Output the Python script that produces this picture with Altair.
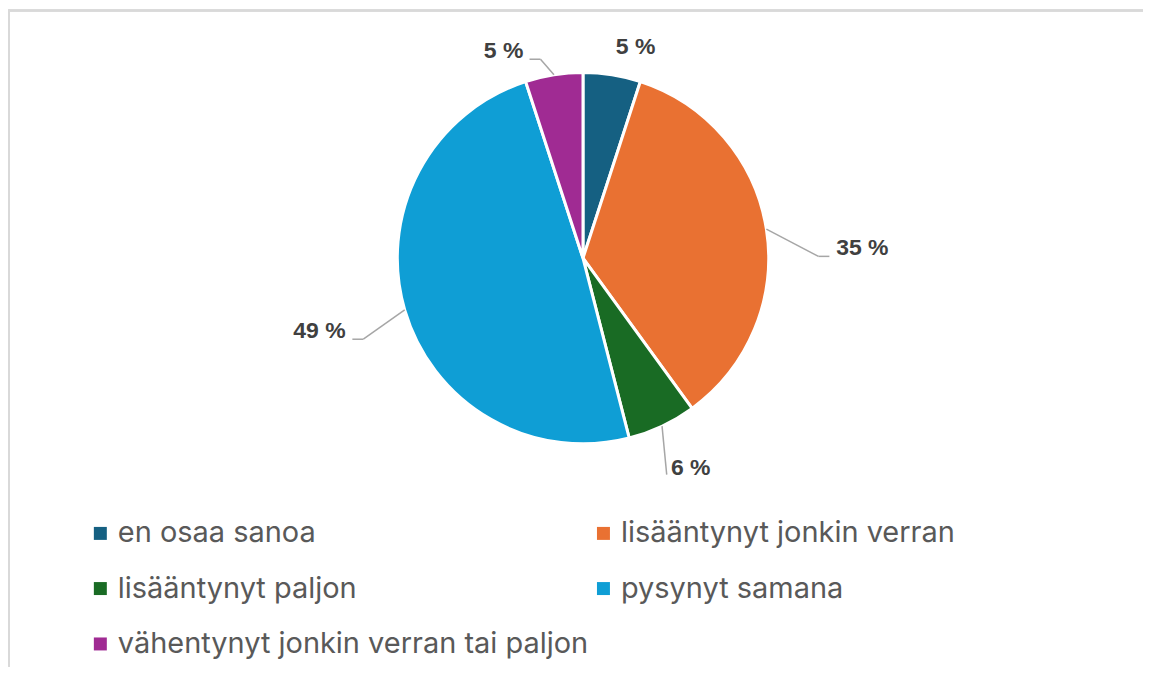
import math
import altair as alt
import pandas as pd

# ---- data ----
categories = [
    "en osaa sanoa",
    "lisääntynyt jonkin verran",
    "lisääntynyt paljon",
    "pysynyt samana",
    "vähentynyt jonkin verran tai paljon",
]
values = [5, 35, 6, 49, 5]
value_labels = ["5 %", "35 %", "6 %", "49 %", "5 %"]
colors = ["#156082", "#E97132", "#196B24", "#0F9ED5", "#A02B93"]

# legend is filled column by column: reorder so it reads row by row
legend_order = [0, 2, 4, 1, 3]

# ---- style / layout parameters ----
PIE_R = 186
LABEL_SHIFT_DEG = [5, 7, -2, 0.7, -12]
LABEL_RADIUS = [218, 280, 236, 274, 222]
LABEL_HALF_W = [20, 27, 20, 27, 20]
LEADER = ["none", "elbow", "straight", "elbow", "elbow"]

W, H = 1136, 658
CX, CY = 575, 249

total = float(sum(values))
rows, seg = [], []
cum = 0.0
for i, (c, v, lab) in enumerate(zip(categories, values, value_labels)):
    mid = (cum + v / 2) / total * 2 * math.pi
    cum += v
    a = mid + math.radians(LABEL_SHIFT_DEG[i])
    lx = LABEL_RADIUS[i] * math.sin(a)
    ly = -LABEL_RADIUS[i] * math.cos(a)
    rows.append({"category": c, "value": v, "label": lab, "lx": lx, "ly": ly})
    sx, sy = PIE_R * math.sin(mid), -PIE_R * math.cos(mid)
    side = 1 if lx > 0 else -1
    if LEADER[i] == "elbow":
        ex, ey = lx - side * (LABEL_HALF_W[i] + 6), ly + 8
        bx = ex - side * 11
        seg.append({"x": sx, "y": sy, "x2": bx, "y2": ey})
        seg.append({"x": bx, "y": ey, "x2": ex, "y2": ey})
    elif LEADER[i] == "straight":
        ex, ey = lx - side * (LABEL_HALF_W[i] + 4), ly + 7
        seg.append({"x": sx, "y": sy, "x2": ex, "y2": ey})

df = pd.DataFrame(rows)
seg_df = pd.DataFrame(seg)

xs = alt.Scale(domain=[-CX, W - CX], nice=False, zero=False)
ys = alt.Scale(domain=[-CY, H - CY], nice=False, zero=False, reverse=True)

leg_domain = [categories[i] for i in legend_order]
leg_range = [colors[i] for i in legend_order]

pie = (
    alt.Chart(df)
    .mark_arc(outerRadius=PIE_R, stroke="white", strokeWidth=3)
    .encode(
        theta=alt.Theta("value:Q", stack=True),
        color=alt.Color(
            "category:N",
            scale=alt.Scale(domain=leg_domain, range=leg_range),
            legend=alt.Legend(
                title=None,
                orient="none",
                legendX=77,
                legendY=510,
                columns=2,
                columnPadding=0,
                rowPadding=25.5,
                symbolType="square",
                symbolSize=169,
                symbolStrokeWidth=0,
                labelFontSize=29,
                labelFont="Inter",
                labelColor="#595959",
                labelOffset=3,
                labelLimit=0,
            ),
        ),
        order=alt.Order("category:N", sort="ascending"),
        x=alt.value(CX),
        y=alt.value(CY),
    )
)

border = alt.layer(
    alt.Chart(df).mark_rule(color="#d9d9d9", strokeWidth=2).encode(
        x=alt.value(0), x2=alt.value(W), y=alt.value(1)
    ),
    alt.Chart(df).mark_rule(color="#d9d9d9", strokeWidth=2).encode(
        x=alt.value(0), y=alt.value(0), y2=alt.value(H)
    ),
)

leaders = (
    alt.Chart(seg_df)
    .mark_rule(color="#a6a6a6", strokeWidth=1.5)
    .encode(
        x=alt.X("x:Q", scale=xs, axis=None),
        y=alt.Y("y:Q", scale=ys, axis=None),
        x2="x2:Q",
        y2="y2:Q",
    )
)

texts = (
    alt.Chart(df)
    .mark_text(
        font="Liberation Sans",
        fontWeight="bold",
        fontSize=23,
        color="#404040",
        align="center",
        baseline="middle",
    )
    .encode(
        x=alt.X("lx:Q", scale=xs, axis=None),
        y=alt.Y("ly:Q", scale=ys, axis=None),
        text="label:N",
    )
)

chart = (
    alt.layer(border, pie, leaders, texts)
    .properties(width=W, height=H, padding=0, background="white")
    .configure_view(stroke=None)
)

chart.save("out.html", embed_options={"renderer": "svg", "actions": False})
